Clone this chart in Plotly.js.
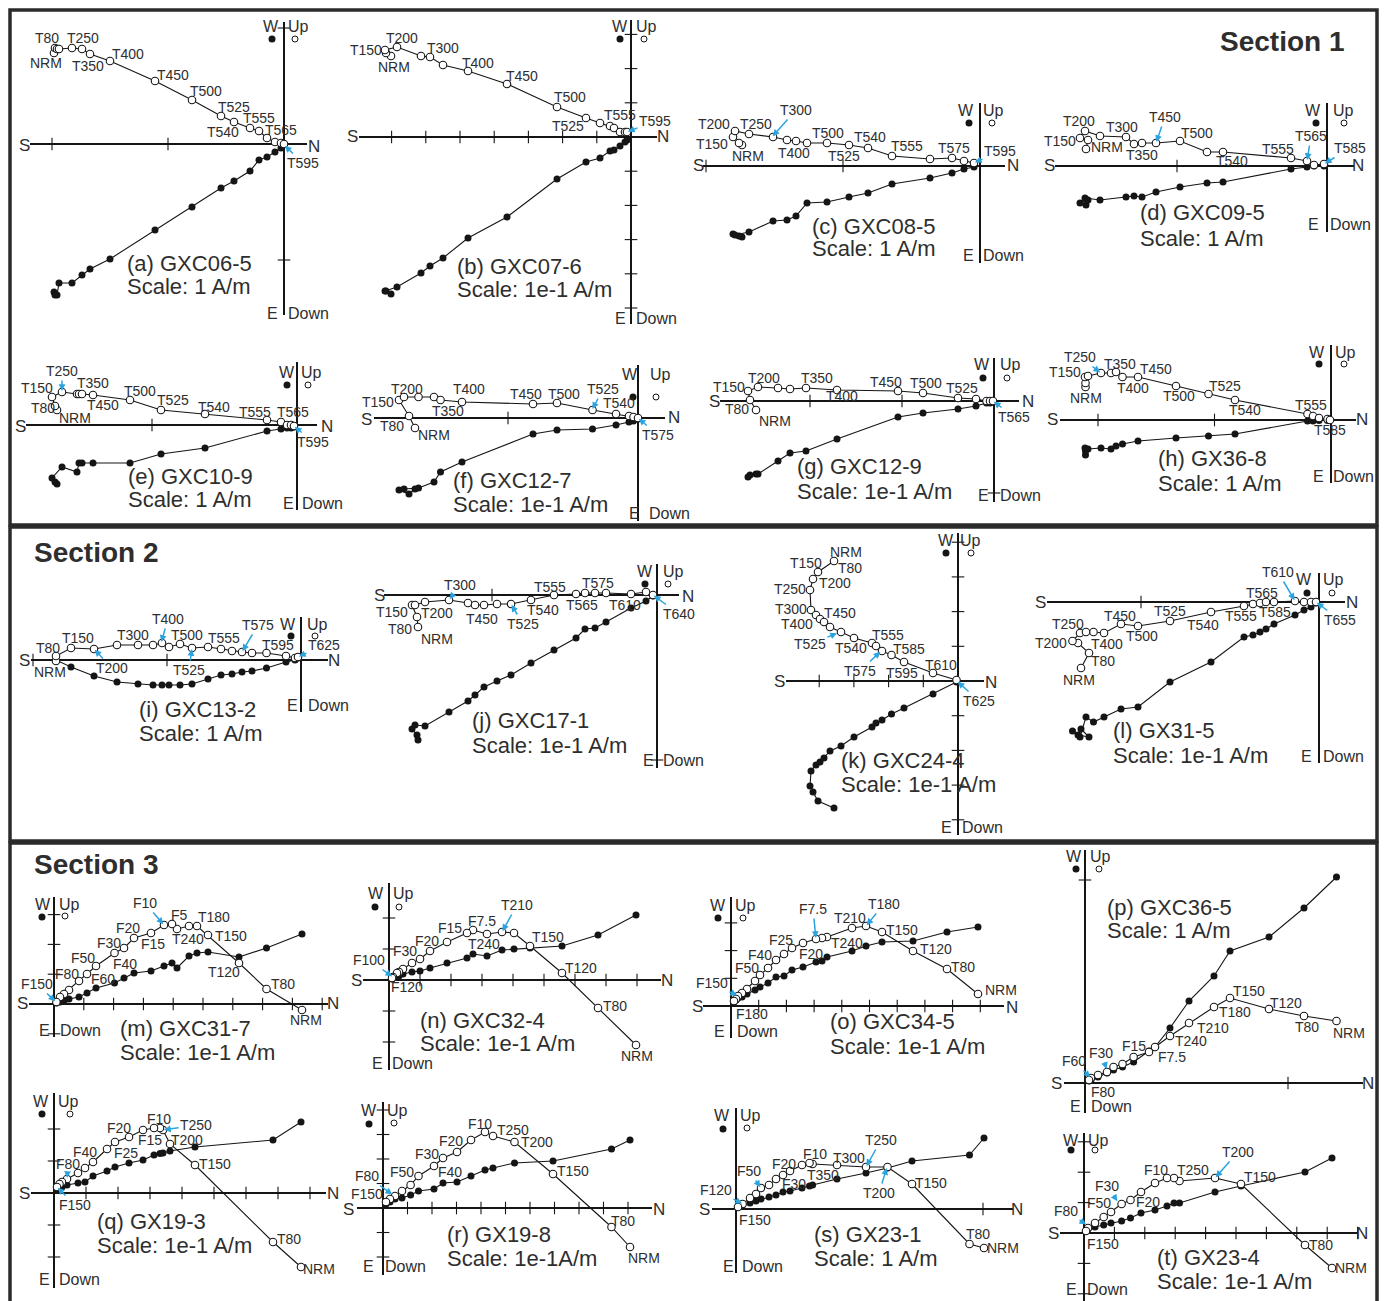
<!DOCTYPE html>
<html><head><meta charset="utf-8">
<script src="https://cdn.plot.ly/plotly-3.0.1.min.js"></script>
<style>html,body{margin:0;padding:0;background:#fff}</style>
</head><body><div id="chart" style="width:1385px;height:1301px"></div>
<script>
// ===== DATA: demagnetization components per specimen (N, Up, W) in plot units =====
const a_N=[-230,-229,-227,-225,-212,-202,-194,-174,-129,-92,-63,-50,-34,-25,-17,-9,-3,0];
const a_Up=[91,96,95,95,96,95,90,83,63,44,28,22,16,13,6,2,1,0];
const a_W=[-148,-151,-151,-139,-139,-131,-125,-115,-86,-63,-44,-37,-27,-16,-13,-8,-4,0];
const b_N=[-240,-245,-246,-234,-210,-201,-188,-163,-124,-74,-45,-31,-21,-17,-11,-6,-4];
const b_Up=[81,84,87,90,81,80,72,66,53,30,19,14,11,9,5,5,5];
const b_W=[-157,-154,-154,-150,-136,-129,-121,-101,-80,-42,-25,-21,-14,-13,-9,-5,-3];
const c_N=[-238,-241,-247,-245,-231,-207,-193,-184,-173,-153,-131,-112,-88,-50,-28,-16,-6];
const c_Up=[21,23,29,35,32,29,26,25,23,23,21,18,10,7,8,5,3];
const c_W=[-71,-70,-68,-69,-66,-55,-54,-50,-37,-36,-31,-27,-18,-12,-7,-3,-1];
const d_N=[-241,-239,-247,-242,-227,-201,-193,-185,-171,-147,-120,-104,-36,-20,-13,-3];
const d_Up=[17,26,28,35,30,29,22,23,23,25,14,14,8,5,1,2];
const d_W=[-39,-34,-37,-32,-34,-31,-30,-31,-26,-21,-17,-16,-3,-1,0,0];
const e_N=[-240,-242,-245,-235,-220,-218,-215,-204,-167,-136,-92,-30,-16,-10,-6,-3];
const e_Up=[15,19,28,33,31,31,31,30,25,15,11,5,3,0,0,-1];
const e_W=[-59,-57,-53,-42,-47,-38,-38,-38,-38,-29,-23,-6,-4,-3,-3,-2];
const f_N=[-223,-229,-239,-234,-219.5,-204,-197.5,-176,-105,-81,-45.5,-22,-9,-4.5,0];
const f_Up=[-10,2,18,21,21,21,18,16,14,15,8,4,2,1,0];
const f_W=[-71,-76,-72,-71,-70,-64,-54,-44,-16,-12,-11,-7,-4,-3,-1];
const g_N=[-238,-244,-246,-236,-216,-204,-188,-157,-96,-71,-36,-18,-7.5,-4,-1];
const g_Up=[-9,1,10,14,13,12,13,11,10,8,3,2,0,0,0];
const g_W=[-73,-74,-76,-73,-60,-52,-50,-38,-16,-12,-8,-5,-2,-2,-1];
const h_N=[-245.5,-245.5,-246,-243,-230,-220,-215,-208.5,-193,-155,-122.5,-96,-23.5,-18,-12,-3.5,-1];
const h_Up=[33,37,43,44,47,47,48,43,43,34,26,20,6,4,2,1,0];
const h_W=[-35,-31,-28,-29,-28,-29,-26,-24,-21,-18,-16,-14,-1,-1,-0.5,-0.5,0];
const i_N=[-245,-245,-230,-207,-184,-163,-148,-139,-132,-121,-109,-93,-80,-69,-59,-49,-34.5,-15,-6,-3];
const i_Up=[-1,4,12,11,15,15,15,17,13,16,12,13,11,9,8,7,7,4,2,3];
const i_W=[-1,0,-7,-16,-22,-24,-25,-25,-25,-25,-24,-19,-15,-14,-12,-11,-8,-2,0,2];
const j_N=[-239,-240,-245,-242,-232,-208,-189,-182,-173,-160,-146,-126,-103,-81,-72,-62,-51,-26,-11,-4];
const j_Up=[-32,-22,-10,-10,-7,-5,-8,-10,-10,-9,-9,-5,0,1,2,2,2,1,3,0];
const j_W=[-145,-140,-134,-130,-131,-117,-106,-100,-92,-86,-80,-68,-55,-43,-34,-33,-27,-13,-6,-1];
const k_N=[-124,-140,-145,-148,-147,-142,-138,-134,-128,-117,-104,-86,-82,-76,-66.5,-54,-25,-1.5];
const k_Up=[120,109,102,91,71,66,62,59,54,49,43,38,35,30,26,19,8,1];
const k_W=[-127,-120,-111,-105,-90,-84,-81,-77,-70,-65,-56,-46,-42,-39,-33,-27,-13,-1];
const l_N=[-238,-230,-241,-246.5,-239,-233,-225.5,-215,-198,-181,-149,-108,-75,-66,-59,-53,-45,-24,-15,-8,-3];
const l_Up=[-66,-51,-41,-39,-31,-30,-30,-31,-22,-24,-19,-10,-4,-2,-1,0,0,1,0,0,0];
const l_W=[-127,-135,-133,-129,-135,-115,-120,-115,-107,-105,-80,-60,-35,-33,-30,-27,-22,-13,-8,-5,-1];
const m_N=[248,212.5,185,154,143,135,123,118,110,97,80,70,60.5,42,33,25,15,10,6,2.4];
const m_Up=[-6,15,41,69,78,78,75,80,79,71,66,56,51,38,30,23,14,10,7,2];
const m_W=[70,56,47,52,51,48,36,41,38,33,31,26,21,16,11,7,5,3,2,1];
const n_N=[247,209,173,141,125,113,98,84,78,58,41,31,23,14,10,8,4,3];
const n_Up=[-65,-28,7,34,47,48,46,50,47,38,29,21,17,11,8,7,3,2];
const n_W=[65,45,34,32,31,30,24,26,22,17,12,9,8,6,4,3,2,1];
const o_N=[247,216,182,151,135,121,96,91,85,72,61,53,45,37,29,24,16,11,7,5,3];
const o_Up=[12,37,55,74,80,78,69,68,67,63,58,52,46,38,31,25,17,13,10,7,5];
const o_W=[79,74,65,64,60,55,49,45,44,39,36,30,29,23,19,16,12,9,8,6,4];
const p_N=[251.5,219,184,145,129,104,85,70,64,48.6,37.5,28.5,22,13,6,4];
const p_Up=[62,67,74,85,76,60,47,36,31,26,19,16,11,8,5,3];
const p_W=[206,175,146,132,107,82,55,36,32,21,16,13,10,6,3,2];
const q_N=[247,219,141,116,109,106,100,89,75,61,53,39,31,24,13,8,5.5,3];
const q_Up=[-74,-49,28,49,63,65,65,63,56,51,44,31,25,20,14,11,9,6];
const q_W=[71,53,46,42,40,39.5,38,33,30,26,22,17,11,10,8,6,5,3];
const r_N=[247,228.5,170,131.5,110,102,88,74,60,51,35.5,27.6,19,12,7,3];
const r_Up=[-39,-19,34,66,72,76,68,56,50,42,32,23,17,12,9,6];
const r_W=[68,59,47,45,40,38,32,26,25,19,17,13,10,9,6,4];
const s_N=[248,233.5,176,151.5,130,101,76.6,73.5,66,54,47,40,33,25,20,14,6.6,2];
const s_Up=[-39,-35,25,42,42,44,45,46,44,38,34,30,24,21,15,11,5,2];
const s_W=[71,54,48,41,36,30,24,23,21,18,17,14,12,10,8,6,4,2];
const t_N=[248,221,157,131,95.5,90,83,71,57,46.5,37.6,27,19.7,11,4,2];
const t_Up=[-35,-12,49,55,52,55,55,50,41,33,29,21,16,10,5,2];
const t_W=[75,61,47,41,30,30,27,23,20,15,12,10,8,6,4,2];

// specimen titles and scales
const names=['(a) GXC06-5','(b) GXC07-6','(c) GXC08-5','(d) GXC09-5','(e) GXC10-9','(f) GXC12-7','(g) GXC12-9','(h) GX36-8','(i) GXC13-2','(j) GXC17-1','(k) GXC24-4','(l) GX31-5','(m) GXC31-7','(n) GXC32-4','(o) GXC34-5','(p) GXC36-5','(q) GX19-3','(r) GX19-8','(s) GX23-1','(t) GX23-4'];
const scales=['Scale: 1 A/m','Scale: 1e-1 A/m','Scale: 1 A/m','Scale: 1 A/m','Scale: 1 A/m','Scale: 1e-1 A/m','Scale: 1e-1 A/m','Scale: 1 A/m','Scale: 1 A/m','Scale: 1e-1 A/m','Scale: 1e-1 A/m','Scale: 1e-1 A/m','Scale: 1e-1 A/m','Scale: 1e-1 A/m','Scale: 1e-1 A/m','Scale: 1 A/m','Scale: 1e-1 A/m','Scale: 1e-1A/m','Scale: 1 A/m','Scale: 1e-1 A/m'];

// ===== LAYOUT (page pixel geometry) =====
// o: origin, x: [S end, N end], y: [top, bottom], u: tick unit, tx/ty: tick multiples
const GEO={
a:{o:[284,144],x:[30,307],y:[22,315],u:116,tx:[-1,-2],ty:[1,-1]},
b:{o:[631,137],x:[359,657],y:[20,324],u:34.2,tx:[-1,-2,-3,-4,-5,-6,-7,-8],ty:[1,2,3,-1,-2,-3,-4,-5]},
c:{o:[980,166],x:[703,1005],y:[103,263],u:137,tx:[-1,-2],ty:[]},
d:{o:[1327,166],x:[1055,1354],y:[103,232],u:150,tx:[-1],ty:[]},
e:{o:[297,425],x:[26,317],y:[362,510],u:145,tx:[-1],ty:[]},
f:{o:[638,418],x:[374,665],y:[365,521],u:130,tx:[-1],ty:[]},
g:{o:[994,401],x:[720,1019],y:[358,502],u:92,tx:[-1,-2],ty:[-1]},
h:{o:[1331,420],x:[1060,1356],y:[345,483],u:116.5,tx:[-1,-2],ty:[]},
i:{o:[301,660],x:[31,328],y:[617,712],u:134,tx:[-1,-2],ty:[]},
j:{o:[657,595],x:[384,679],y:[564,768],u:165,tx:[-1],ty:[-1]},
k:{o:[958,681],x:[786,984],y:[533,835],u:34.7,tx:[-1,-2,-3,-4,-5],ty:[1,2,3,4,-1,-2,-3,-4]},
l:{o:[1319,602],x:[1047,1345],y:[573,763],u:178,tx:[-1],ty:[]},
m:{o:[54,1004],x:[29,328],y:[897,1037],u:29.8,tx:[1,2,3,4,5,6,7,8,9],ty:[1,2,3,-1]},
n:{o:[389,980],x:[363,661],y:[883,1070],u:31,tx:[1,2,3,4,5,6,7,8],ty:[1,2,-1,-2]},
o:{o:[731,1006],x:[703,1004],y:[897,1038],u:27.7,tx:[1,2,3,4,5,6,7,8,9],ty:[1,2,3]},
p:{o:[1085,1083],x:[1064,1363],y:[850,1113],u:203,tx:[1],ty:[1]},
q:{o:[54,1193],x:[31,326],y:[1093,1288],u:32,tx:[1,2,3,4,5,6,7,8],ty:[1,2,-1,-2]},
r:{o:[383,1208],x:[357,652],y:[1102,1275],u:24.5,tx:[1,2,3,4,5,6,7,8,9,10],ty:[1,2,3,4,-1,-2]},
s:{o:[736,1209],x:[712,1013],y:[1108,1273],u:247,tx:[1],ty:[]},
t:{o:[1084,1233],x:[1060,1358],y:[1133,1301],u:30.4,tx:[1,2,3,4,5,6,7,8,9],ty:[1,2,3,-1,-2]}
};
// legend dots [filledX,filledY,openX,openY]
const LEG={a:[272,39,295,39],b:[620,39,644,39],c:[969,123,992,123],d:[1316,123,1344,123],e:[287,385,308,385],f:[633,397,656,397],g:[983,378,1007,378],h:[1319,364,1344,364],i:[291,636,315,636],j:[645,584,668,584],k:[946,553,971,553],l:[1307,593,1332,593],m:[42,917,65,916],n:[375,907,399,907],o:[718,918,743,918],p:[1076,869,1099,869],q:[42,1114,70,1114],r:[369,1124,394,1123],s:[723,1129,747,1128],t:[1071,1150,1095,1150]};
// axis end labels S,N,W,Up,E,Down
const AXL={
a:[24,145,314,146,271,26,298,26,272,313,308,313],b:[352,137,663,137,620,26,646,26,620,318,656,318],
c:[699,166,1013,166,966,110,993,110,968,256,1003,256],d:[1049,166,1358,166,1313,110,1343,110,1313,224,1350,224],
e:[20,426,327,426,287,372,311,372,288,503,322,503],f:[366,419,674,418,630,375,660,375,634,513,669,513],
g:[714,401,1028,401,982,365,1010,365,983,495,1020,495],h:[1052,420,1362,420,1317,352,1345,352,1318,476,1353,476],
i:[24,660,334,660,288,624,317,624,292,705,328,705],j:[379,595,688,596,645,571,673,571,648,760,683,760],
k:[779,681,991,682,946,540,970,540,946,827,982,827],l:[1040,602,1352,602,1304,580,1333,580,1306,756,1343,756],
m:[22,1004,333,1004,43,904,69,904,44,1030,80,1030],n:[356,980,667,980,376,893,403,893,377,1063,412,1063],
o:[698,1006,1012,1007,718,905,745,905,720,1031,757,1031],p:[1056,1083,1368,1083,1074,856,1100,856,1075,1106,1111,1106],
q:[24,1193,333,1193,41,1101,68,1101,44,1279,79,1279],r:[349,1209,659,1209,369,1110,398,1110,368,1266,405,1266],
s:[704,1209,1017,1209,722,1115,750,1115,728,1266,763,1266],t:[1053,1233,1362,1233,1071,1140,1098,1140,1071,1289,1107,1289]
};
// title placement [left, y1, y2]
const TTL={a:[125,263,287],b:[455,266,290],c:[810,226,249],d:[1138,213,238],e:[126,476,500],f:[451,481,504],g:[795,466,492],h:[1156,459,483],i:[137,709,733],j:[470,720,745],k:[839,760,784],l:[1111,730,755],m:[118,1028,1052],n:[418,1020,1043],o:[828,1021,1046],p:[1105,907,930],q:[95,1221,1245],r:[445,1234,1258],s:[812,1234,1258],t:[1155,1257,1281]};
// step labels [text, x, y] or [text, textX, textY, pointX, pointY] (blue arrow)
const LAB={
a:[['T80',47,38],['T250',83,38],['NRM',46,63],['T350',88,66],['T400',128,54],['T450',173,75],['T500',206,91],['T525',234,107],['T555',259,118],['T540',223,132],['T565',281,130],['T595',303,163,284,145]],
b:[['T150',366,50],['T200',402,38],['NRM',394,67],['T300',443,48],['T400',478,63],['T450',522,76],['T500',570,97],['T525',568,126],['T555',620,115],['T595',655,121,627,132]],
c:[['T200',714,124],['T250',756,124],['T300',796,110,772,137],['T150',712,144],['NRM',748,156],['T400',794,153],['T500',828,133],['T525',844,156],['T540',870,137],['T555',907,146],['T575',954,148],['T595',1000,151,974,163]],
d:[['T200',1079,121],['T300',1122,127],['T450',1165,117,1156,143],['T500',1197,133],['T150',1060,141],['NRM',1107,147],['T350',1142,155],['T540',1232,161],['T555',1278,149],['T565',1311,136,1307,161],['T585',1350,148,1324,164]],
e:[['T250',62,371,62,392],['T150',37,388],['T350',93,383],['T500',140,391],['T80',43,408],['T450',103,405],['NRM',75,418],['T525',173,400],['T540',214,407],['T555',255,412],['T565',293,412],['T595',313,442,294,426]],
f:[['T200',407,389],['T400',469,389],['T450',526,394],['T500',564,394],['T525',603,389,592,410],['T150',378,402],['T540',619,403],['T350',448,411],['T80',392,426],['NRM',434,435],['T575',658,435,638,418]],
g:[['T150',729,387],['T200',764,378],['T350',817,378],['T450',886,382],['T500',926,383],['T525',962,388],['T400',842,396],['T80',737,409],['NRM',775,421],['T565',1014,417,993,401]],
h:[['T250',1080,357,1101,373],['T350',1120,364],['T450',1156,369],['T150',1065,372],['T400',1133,388],['NRM',1086,398],['T500',1179,396],['T525',1225,386],['T540',1245,410],['T555',1311,405],['T585',1330,430]],
i:[['T80',48,648],['T150',78,638],['T300',133,635],['T400',168,619,161,643],['T500',187,635],['T555',224,638],['T575',258,625,242,652],['T595',278,645],['T625',324,645,298,657],['NRM',50,672],['T200',112,668,94,649],['T525',189,670,192,648]],
j:[['T300',460,585,449,600],['T555',550,587],['T575',598,583],['T150',392,612],['T200',437,613],['T450',482,619],['T540',543,610],['T565',582,605],['T610',625,605],['T525',523,624,511,604],['T80',400,629],['NRM',437,639],['T640',679,614,653,595]],
k:[['NRM',846,552],['T150',806,563],['T80',850,568],['T200',835,583],['T250',790,589],['T300',791,609],['T450',840,613],['T400',797,624],['T525',810,644,838,633],['T555',888,635],['T540',851,648],['T585',909,649],['T575',860,671,881,651],['T595',902,673],['T610',941,665],['T625',979,701,957,681]],
l:[['T610',1278,572,1295,601],['T565',1262,593],['T450',1120,616],['T525',1170,611],['T250',1068,624],['T555',1241,616],['T585',1275,612],['T540',1203,625],['T500',1142,636],['T400',1107,644],['T200',1051,643],['T80',1103,661],['NRM',1079,680],['T655',1340,620,1316,602]],
m:[['F10',145,903,164,925],['F5',180,915],['T180',214,917],['F20',128,928],['T150',231,936],['F30',109,943],['F15',153,944],['T240',188,939],['F50',83,958],['F40',125,964],['F80',67,974],['F60',103,979],['T120',224,972],['F150',37,984,56,1002],['T80',283,984],['NRM',306,1020]],
n:[['T210',517,905,502,932],['F7.5',482,921],['F15',450,928],['F20',427,941],['T240',484,944],['T150',548,937],['F30',405,951],['F100',369,960,393,977],['T120',581,968],['F120',407,987],['T80',615,1006],['NRM',637,1056]],
o:[['F7.5',813,909,816,939],['T180',884,904,866,926],['T210',850,918],['T150',902,930],['F25',781,940],['T240',847,943],['F40',760,955],['F20',811,954],['T120',936,949],['F50',747,968],['T80',963,967],['F150',712,983,738,996],['NRM',1001,990],['F180',752,1014]],
p:[['T150',1249,991],['T120',1286,1003],['T180',1235,1012],['T80',1307,1027],['NRM',1349,1033],['T210',1213,1028],['T240',1191,1041],['F15',1134,1046],['F7.5',1172,1057],['F60',1074,1061,1091,1078],['F30',1101,1053,1107,1070],['F80',1103,1092]],
q:[['F10',159,1119],['T250',196,1125,163,1130],['F20',119,1128],['F15',150,1140],['T200',187,1140],['F40',85,1152],['F25',126,1153],['F80',68,1164,67,1179],['T150',215,1164],['F150',75,1205,57,1187],['T80',289,1239],['NRM',319,1269]],
r:[['F10',480,1124],['T250',513,1130],['F20',451,1141],['T200',537,1142],['F30',427,1154],['F50',402,1172],['F40',450,1172],['T150',573,1171],['F80',367,1176,393,1195],['F150',367,1194],['T80',623,1221],['NRM',644,1258]],
s:[['T250',881,1140,866,1167],['F10',815,1154],['T300',849,1158],['F20',784,1164],['F50',749,1171,761,1188],['T350',823,1175],['F30',794,1184],['T200',879,1193,887,1167],['T150',931,1183],['F120',716,1190,743,1204],['F150',755,1220],['T80',978,1234],['NRM',1003,1248]],
t:[['T200',1238,1152,1215,1178],['F10',1156,1170],['T250',1193,1170],['T150',1260,1177],['F30',1107,1186,1118,1202],['F50',1099,1203,1104,1214],['F20',1148,1202],['F80',1066,1211,1087,1225],['F150',1103,1244],['T80',1321,1245],['NRM',1351,1268]]
};

const SERIES={a:[a_N,a_Up,a_W],b:[b_N,b_Up,b_W],c:[c_N,c_Up,c_W],d:[d_N,d_Up,d_W],e:[e_N,e_Up,e_W],f:[f_N,f_Up,f_W],g:[g_N,g_Up,g_W],h:[h_N,h_Up,h_W],i:[i_N,i_Up,i_W],j:[j_N,j_Up,j_W],k:[k_N,k_Up,k_W],l:[l_N,l_Up,l_W],m:[m_N,m_Up,m_W],n:[n_N,n_Up,n_W],o:[o_N,o_Up,o_W],p:[p_N,p_Up,p_W],q:[q_N,q_Up,q_W],r:[r_N,r_Up,r_W],s:[s_N,s_Up,s_W],t:[t_N,t_Up,t_W]};

const W=1385,H=1301;
const PX=v=>v/W, PY=v=>1-v/H;
const FONT='"Liberation Sans", Arial, Helvetica, sans-serif';
const INK='#151515', TXT='#2e2e2e', BLUE='#2aa3de';
const traces=[], annotations=[], shapes=[];
const layout={width:W,height:H,margin:{l:0,r:0,t:0,b:0},paper_bgcolor:'#fff',plot_bgcolor:'rgba(0,0,0,0)',showlegend:false,font:{family:FONT,color:TXT}};

function txt(t,x,y,size,opts){
  annotations.push(Object.assign({xref:'paper',yref:'paper',x:PX(x),y:PY(y),text:t,showarrow:false,
    xanchor:'center',yanchor:'middle',font:{family:FONT,size:size,color:TXT}},opts||{}));
}

Object.keys(GEO).forEach((key,idx)=>{
  const G=GEO[key], n=idx+1, sfx=n>1?String(n):'';
  const xa='x'+sfx, ya='y'+sfx, [ox,oy]=G.o;
  const base={showgrid:false,showticklabels:false,ticks:'',showline:false,fixedrange:true,
    zeroline:true,zerolinecolor:INK,zerolinewidth:1.1};
  layout['xaxis'+sfx]=Object.assign({},base,{domain:[PX(G.x[0]),PX(G.x[1])],range:[G.x[0]-ox,G.x[1]-ox],anchor:ya});
  layout['yaxis'+sfx]=Object.assign({},base,{domain:[PY(G.y[1]),PY(G.y[0])],range:[oy-G.y[1],oy-G.y[0]],anchor:xa});
  const [N,Up,Wc]=SERIES[key];
  // tick marks on the crossed axes
  if(G.tx.length) traces.push({x:G.tx.map(k=>k*G.u),y:G.tx.map(()=>0),xaxis:xa,yaxis:ya,mode:'markers',cliponaxis:false,hoverinfo:'skip',
    marker:{symbol:'line-ns',size:9,line:{width:1.1,color:INK}}});
  if(G.ty.length) traces.push({x:G.ty.map(()=>0),y:G.ty.map(k=>k*G.u),xaxis:xa,yaxis:ya,mode:'markers',cliponaxis:false,hoverinfo:'skip',
    marker:{symbol:'line-ew',size:9,line:{width:1.1,color:INK}}});
  // horizontal projection (filled)
  traces.push({x:N,y:Wc,xaxis:xa,yaxis:ya,mode:'lines+markers',cliponaxis:false,hoverinfo:'skip',
    line:{color:INK,width:1.1},marker:{size:7,color:INK,line:{width:0}}});
  // vertical projection (open)
  traces.push({x:N,y:Up,xaxis:xa,yaxis:ya,mode:'lines+markers',cliponaxis:false,hoverinfo:'skip',
    line:{color:INK,width:1.1},marker:{size:7.5,color:'#fff',line:{width:1.1,color:INK}}});
  // legend dots
  const L=LEG[key];
  shapes.push({type:'circle',xref:'paper',yref:'paper',x0:PX(L[0]-3.5),x1:PX(L[0]+3.5),y0:PY(L[1]+3.5),y1:PY(L[1]-3.5),fillcolor:INK,line:{width:0}});
  shapes.push({type:'circle',xref:'paper',yref:'paper',x0:PX(L[2]-3),x1:PX(L[2]+3),y0:PY(L[3]+3),y1:PY(L[3]-3),fillcolor:'#fff',line:{width:1,color:INK}});
  // axis end labels
  const A=AXL[key];
  ['S','N','W','Up','E','Down'].forEach((t,j)=>txt(t,A[2*j],A[2*j+1],(t==='S'||t==='N')?17:16));
  // titles
  const T=TTL[key];
  txt(names[idx],T[0],T[1],22,{xanchor:'left'});
  txt(scales[idx],T[0],T[2],22,{xanchor:'left'});
  // step labels
  LAB[key].forEach(l=>{
    if(l.length===3){ txt(l[0],l[1],l[2],14); }
    else{
      annotations.push({xref:'paper',yref:'paper',x:PX(l[3]),y:PY(l[4]),ax:l[1]-l[3],ay:l[2]-l[4],text:l[0],showarrow:true,
        arrowcolor:BLUE,arrowhead:2,arrowsize:0.9,arrowwidth:1.5,standoff:1,font:{family:FONT,size:14,color:TXT}});
    }
  });
});

// section titles
txt('<b>Section 1</b>',1346,42,28,{xanchor:'right'});
txt('<b>Section 2</b>',32,552,28,{xanchor:'left'});
txt('<b>Section 3</b>',32,864,28,{xanchor:'left'});
// section frames
[[10,10,1377,525],[10,527,1377,841],[10,843,1377,1320]].forEach(r=>{
  shapes.push({type:'rect',xref:'paper',yref:'paper',x0:PX(r[0]),x1:PX(r[2]),y0:PY(r[3]),y1:PY(r[1]),line:{color:'#2b2b2b',width:3.5},fillcolor:'rgba(0,0,0,0)',layer:'below'});
});

layout.annotations=annotations;
layout.shapes=shapes;
Plotly.newPlot('chart',traces,layout,{staticPlot:true,displayModeBar:false});
</script></body></html>
